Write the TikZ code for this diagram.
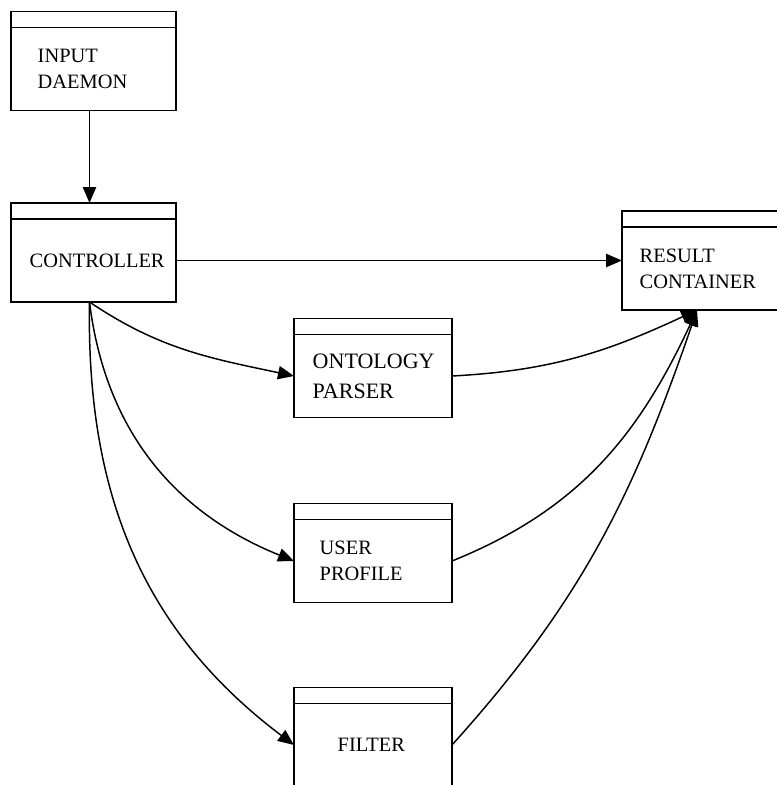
\documentclass[tikz,border=0pt]{standalone}
\usepackage{fontspec}
\setmainfont{Liberation Serif}
\usetikzlibrary{positioning,arrows.meta}

\begin{document}
\begin{tikzpicture}[
  x=0.75pt, y=0.75pt,
  mod/.style={draw, line width=1.4pt, minimum height=62.25pt,
              inner sep=0pt, outer sep=0pt},
  hd/.style={draw, line width=1.4pt, minimum height=12pt,
             inner sep=0pt, outer sep=0pt},
  lbl/.style={inner sep=0pt, align=left, font=\fontsize{15.3}{19.5}\selectfont},
  >={Triangle[length=12pt,width=10pt]}, line width=1.1pt
]
  \useasboundingbox (0,0) rectangle (776,-785);

  \node[mod, minimum width=123.75pt] (input) at (93.5,-69) {};
  \node[mod, minimum width=123.75pt] (ctrl) at (93.5,-260.5) {};
  \node[mod, minimum width=135pt, anchor=west] (result) at (622,-268.5) {};
  \node[mod, minimum width=118.5pt] (onto) at (373,-376) {};
  \node[mod, minimum width=118.5pt] (user) at (373,-561) {};
  \node[mod, minimum width=118.5pt] (filter) at (373,-745) {};

  \foreach \n/\w in {input/123.75pt, ctrl/123.75pt, result/135pt,
                     onto/118.5pt, user/118.5pt, filter/118.5pt}
    \node[hd, minimum width=\w, above=0pt of \n] (\n-h) {};

  \node[lbl, right=19.5pt of input.west] (input-t) {INPUT\\DAEMON};
  \node[lbl, right=13.5pt of ctrl.west] (ctrl-t) {CONTROLLER};
  \node[lbl, right=12.75pt of result.west] (result-t) {RESULT\\CONTAINER};
  \node[lbl, font=\fontsize{16.5}{22.5}\selectfont,
        right=13.5pt of onto.west] (onto-t) {ONTOLOGY\\PARSER};
  \node[lbl, right=18.75pt of user.west] (user-t) {USER\\PROFILE};
  \node[lbl, right=32.25pt of filter.west] (filter-t) {FILTER};

  \coordinate (fork) at ([xshift=-3pt]ctrl.south);
  \coordinate (join) at ([xshift=56.25pt]result.south west);

  \draw[->] ([xshift=-3pt]input.south) -- ([xshift=-3pt]ctrl-h.north);
  \draw[->] (ctrl.east) -- (ctrl.east -| result.west);

  \draw[->] (fork) to[out=-34, in=168] (onto.west);
  \draw[->] (fork) to[out=-83, in=158] (user.west);
  \draw[->] (fork) to[out=-91, in=143] (filter.west);

  \draw[->] (onto.east) to[out=3, in=205] (join);
  \draw[->] (user.east) to[out=22, in=245] (join);
  \draw[->] (filter.east) to[out=48, in=251] (join);
\end{tikzpicture}
\end{document}
